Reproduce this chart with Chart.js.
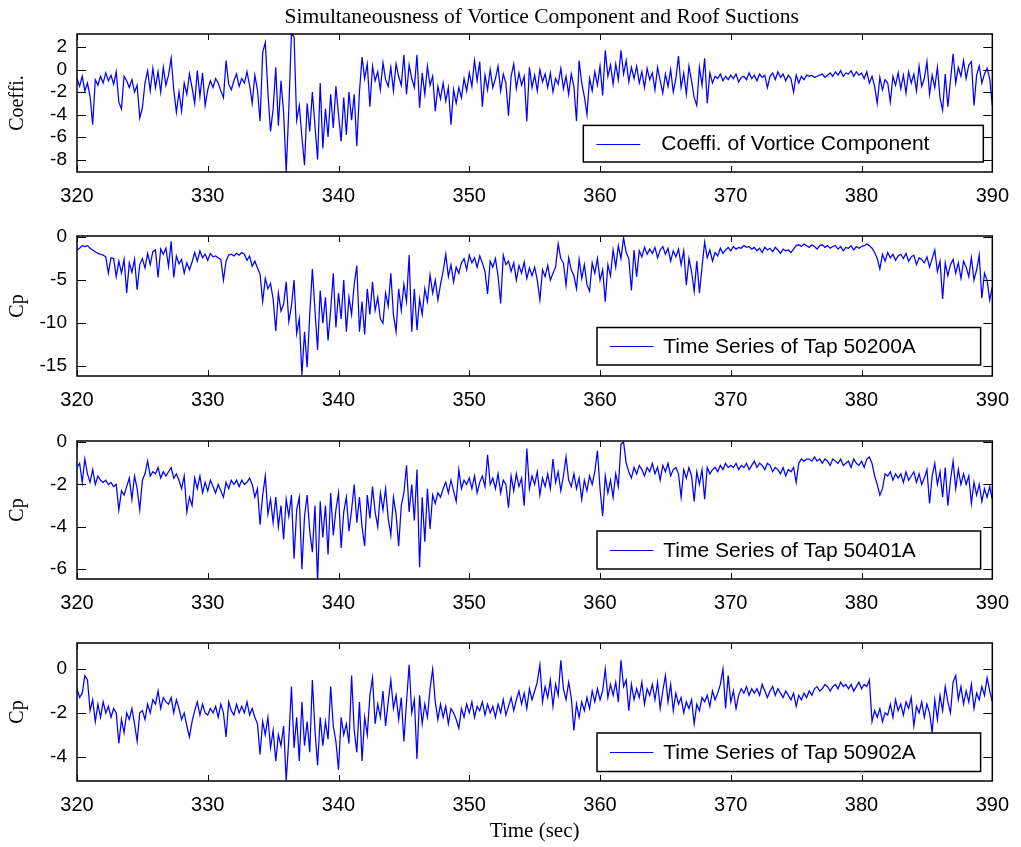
<!DOCTYPE html>
<html>
<head>
<meta charset="utf-8">
<title>Simultaneousness of Vortice Component and Roof Suctions</title>
<script src="https://cdn.jsdelivr.net/npm/chart.js@4.4.1/dist/chart.umd.min.js"></script>
<style>
  html, body { margin: 0; padding: 0; background: #fff; }
  #fig { position: relative; width: 1021px; height: 847px; overflow: hidden; }
  #fig canvas { position: absolute; left: 0; }
</style>
</head>
<body>
<div id="fig">
  <canvas id="c1" width="1021" height="212" style="top:0px"></canvas>
  <canvas id="c2" width="1021" height="204" style="top:212px"></canvas>
  <canvas id="c3" width="1021" height="203" style="top:416px"></canvas>
  <canvas id="c4" width="1021" height="228" style="top:619px"></canvas>
</div>
<script>
// sampling of the records (sec)
const t0 = 320;
const dt = 0.2;
const xTicks = [320, 330, 340, 350, 360, 370, 380, 390];

// one line = one second (5 samples)
const vortexCoef = [
  -0.8, -1.5, -0.6, -1.9, -1.2,
  -2.4, -4.9, -0.9, -1.4, -0.6,
  -1.2, -0.3, -1.0, -0.5, -1.3,
  -0.2, -2.9, -3.5, -0.6, -1.0,
  -1.6, -0.9, -2.0, -1.4, -4.3,
  -3.4, -1.2, -0.1, -1.9, 0.1,
  -1.6, -0.2, -2.0, 0.2, -1.4,
  -0.5, 1.0, -1.8, -3.8, -2.0,
  -3.7, -1.2, -2.2, -0.4, -1.6,
  -3.0, -0.1, -2.4, -0.3, -3.2,
  -1.8, -1.0, -1.6, -0.8, -1.2,
  -1.9, -2.5, 0.8, -1.3, -1.8,
  -1.0, -0.4, -1.5, -0.8, -1.2,
  -0.2, -1.4, -3.0, -0.5, -1.8,
  -4.6, 1.5, 2.4, -2.0, -5.5,
  -3.5, 0.2, -5.0, -1.0, -3.8,
  -9.1, -3.5, 3.2, 2.9, -4.5,
  -3.2, -6.0, -8.5, -3.0, -5.5,
  -2.0, -5.0, -8.0, -1.2, -7.0,
  -3.5, -6.0, -2.2, -5.2, -1.5,
  -4.0, -6.4, -2.5, -5.8, -2.0,
  -4.5, -2.2, -6.8, -2.0, 1.1,
  -0.8, 0.5, -3.3, 0.3, -1.0,
  -0.2, -1.8, 0.6, -0.9, -1.5,
  0.2, -1.9, 0.5, -0.6, -1.4,
  1.3, -2.2, 0.4, -0.8, -1.6,
  1.3, -3.4, -0.3, -2.2, 0.3,
  -1.4, -0.6, -3.7, -1.5, -2.6,
  -1.2, -2.8, -1.6, -4.9, -1.8,
  -3.0, -1.6, -2.5, -0.8, -1.9,
  -0.3, -1.5, 0.8, -1.0, 0.7,
  -3.3, -0.5, -1.8, 0.0, -1.6,
  -0.8, 0.3, -1.9, -0.4, -1.2,
  -4.1, -0.6, 0.5, -1.7, -0.3,
  -1.4, -0.6, -4.6, 0.2, -1.6,
  -0.5, -1.9, 0.0, -1.1, -0.4,
  -1.6, -0.3, -2.0, -0.8, -1.3,
  0.1, -1.7, -0.6, -2.2, -0.4,
  -1.5, -4.6, 0.8, -1.2, -2.4,
  -4.0, -0.8, -1.9, -0.2, -1.4,
  0.3, -2.3, 1.7, -0.6, 0.4,
  -1.3, 0.5, -0.9, 1.7, -0.4,
  0.8, -1.1, 0.2, -0.8, 0.3,
  -1.2, -0.2, -1.6, 0.1, -0.9,
  -0.3, -1.8, 0.2, -1.0, -2.1,
  -0.4, -1.5, 0.0, -2.0, -0.8,
  1.2, -1.6, -0.3, -2.2, 0.3,
  -1.0, -2.5, -3.2, 0.2, -1.4,
  1.0, -3.0, -0.3, -1.2, -0.6,
  -0.8, -0.4, -1.0, -0.6, -0.9,
  -0.5, -0.8, -0.4, -1.1, -0.7,
  -0.6, -0.9, -0.3, -0.8, -0.5,
  -1.0, -0.4, -0.7, -0.5, -1.6,
  -0.6, -0.3, -0.9, -0.2, -0.7,
  -0.4, -1.0, -0.5, -0.8, -2.0,
  -0.5, -1.2, -0.6, -0.9, -0.5,
  -0.6, -0.5, -0.7, -0.6, -0.5,
  -0.4, -0.7, -0.5, -0.3, -0.6,
  -0.2, -0.5, -0.1, -0.6, -0.3,
  -0.4, -0.1, -0.6, -0.2, -0.5,
  -0.3, -0.8, -0.2, -1.2, -0.6,
  -1.5, -3.0, -0.7, -1.8, -0.9,
  -1.2, -2.9, -0.6, -1.4, -0.3,
  -1.7, -0.5, -2.1, -0.2, -1.2,
  -0.4, -1.9, 0.3, -1.5, -0.8,
  0.7, -2.2, -0.5, -1.6, 0.2,
  -2.5, -3.6, -0.4, -3.3, -1.0,
  1.4, -1.2, 0.2, -0.6, 0.8,
  -0.8, 0.4, 0.7, -3.2, -0.5,
  0.3, -1.2, -0.4, 0.1, -0.8,
  -3.2
];

const tap50200A = [
  -1.5, -1.3, -1.0, -1.1, -1.0,
  -1.3, -1.5, -1.7, -1.9, -2.0,
  -2.1, -2.3, -4.2, -2.4, -2.5,
  -4.6, -2.8, -4.2, -2.6, -6.5,
  -3.0, -4.1, -2.6, -6.1, -3.2,
  -2.5, -3.6, -1.9, -3.2, -1.7,
  -1.5, -4.7, -1.4, -2.0, -1.3,
  -3.4, -0.5, -4.7, -2.2, -3.1,
  -2.6, -4.2, -3.0, -3.8, -2.9,
  -1.8, -2.8, -1.6, -2.4, -2.0,
  -2.7, -1.9, -2.3, -2.2, -2.4,
  -2.6, -5.0, -2.8, -2.1, -2.0,
  -2.2, -1.9, -2.1, -1.8, -2.0,
  -2.7, -2.2, -3.4, -2.8, -3.6,
  -4.3, -7.5, -4.8, -6.0, -5.4,
  -7.2, -10.9, -6.5, -8.6, -7.8,
  -5.2, -9.8, -8.0, -5.0, -11.2,
  -9.5, -16.0, -11.0, -15.1, -9.0,
  -3.7, -8.5, -13.1, -6.2, -10.0,
  -7.0, -12.0, -8.5, -4.2, -10.5,
  -6.5, -9.5, -5.0, -11.0, -7.0,
  -9.0, -5.5, -3.3, -11.0, -7.5,
  -11.3, -6.0, -9.0, -5.2, -8.5,
  -7.0, -9.5, -10.0, -6.5, -8.0,
  -4.2, -9.0, -11.0, -6.0, -8.5,
  -5.5, -7.5, -2.1, -11.0, -6.0,
  -10.8, -7.2, -9.0, -6.0, -7.5,
  -4.4, -6.5, -5.0, -7.3, -5.5,
  -4.0, -2.0, -4.6, -3.2, -5.2,
  -3.5, -4.2, -3.0, -2.5, -3.8,
  -2.1, -3.0, -2.4, -3.5, -2.2,
  -3.0, -4.0, -6.6, -2.8, -3.5,
  -2.5, -4.5, -7.7, -2.1, -3.2,
  -2.8, -4.0, -3.0, -5.0, -3.3,
  -4.2, -2.9, -4.8, -3.6, -4.5,
  -3.5, -5.0, -7.3, -3.8, -4.6,
  -3.3, -5.0, -4.2, -3.5, -0.8,
  -2.5, -3.0, -5.6, -2.4, -3.8,
  -4.5, -6.0, -2.6, -4.8, -3.2,
  -5.5, -6.3, -3.0, -4.2, -2.5,
  -5.0, -3.8, -7.5, -3.2, -4.5,
  -1.5, -3.5, -1.0, -2.5, -0.1,
  -1.8, -2.5, -6.2, -1.5, -4.6,
  -1.6, -2.3, -1.2, -2.0, -1.4,
  -1.9, -1.2, -2.4, -1.5, -1.1,
  -2.0, -1.3, -2.8, -1.6, -2.3,
  -1.4, -3.2, -1.6, -5.6, -2.5,
  -4.0, -6.3, -2.8, -6.5, -3.5,
  -0.6, -2.4, -1.5, -2.8, -1.8,
  -2.2, -1.3, -1.9, -1.5, -1.2,
  -1.6, -1.1, -1.4, -1.2, -1.3,
  -1.0, -1.2, -1.1, -1.4, -1.2,
  -1.6, -1.3, -1.8, -1.2, -1.5,
  -1.3, -1.7, -1.2, -1.5, -1.9,
  -1.4, -1.6, -1.5, -1.8, -1.4,
  -1.0, -0.9, -1.1, -0.8, -1.0,
  -1.2, -0.9, -1.1, -1.4, -1.0,
  -0.9, -1.2, -1.0, -1.3, -1.1,
  -1.0, -1.4, -1.1, -1.6, -1.2,
  -1.3, -1.0, -1.5, -1.1, -1.3,
  -1.1, -1.0, -0.8, -1.0, -1.3,
  -1.8, -2.5, -3.7, -2.0, -2.8,
  -1.8, -2.4, -2.0, -2.7, -2.2,
  -2.0, -2.5, -1.9, -2.8, -2.3,
  -2.1, -3.2, -2.4, -2.6, -3.0,
  -2.3, -3.5, -2.5, -1.5, -4.0,
  -2.8, -7.2, -3.0, -4.5, -3.2,
  -2.6, -4.2, -3.0, -4.8, -2.8,
  -3.5, -4.6, -2.4, -5.0, -3.8,
  -2.1, -7.1, -4.2, -5.0, -7.3,
  -5.8
];

const tap50401A = [
  -1.2, -1.0, -1.9, -0.8, -1.5,
  -1.9, -1.3, -2.0, -1.6, -1.8,
  -1.9, -1.8, -2.0, -1.9, -2.1,
  -2.0, -3.2, -2.3, -2.5, -2.1,
  -1.7, -2.7, -1.6, -2.2, -3.2,
  -1.8, -1.5, -0.9, -1.6, -1.4,
  -1.5, -1.2, -1.7, -1.4, -1.6,
  -1.4, -1.2, -1.7, -1.5, -1.8,
  -2.2, -1.6, -3.3, -2.6, -3.0,
  -1.7, -2.2, -1.6, -2.4, -1.9,
  -2.3, -1.8, -2.1, -2.4, -2.0,
  -2.3, -2.6, -1.9, -2.2, -1.8,
  -2.0, -1.8, -2.1, -1.8, -2.0,
  -1.9, -1.7, -2.0, -2.6, -2.2,
  -3.9, -2.5, -1.6, -3.4, -2.7,
  -3.8, -2.6, -4.0, -3.0, -4.6,
  -2.7, -3.5, -2.5, -5.5, -3.2,
  -2.6, -6.0, -3.5, -2.5, -4.2,
  -5.2, -3.0, -6.6, -2.8, -4.5,
  -3.0, -5.3, -2.4, -4.4, -3.2,
  -2.4, -5.0, -3.3, -2.6, -4.2,
  -3.2, -2.0, -3.8, -2.6, -4.0,
  -4.9, -2.5, -3.6, -2.1, -3.3,
  -4.0, -2.4, -3.2, -2.2, -3.6,
  -4.4, -2.6, -3.4, -4.9, -3.0,
  -2.4, -1.1, -3.3, -2.0, -3.7,
  -1.3, -5.9, -2.6, -4.7, -2.2,
  -4.1, -2.5, -2.9, -2.4, -2.6,
  -2.2, -1.9, -2.4, -1.8, -2.3,
  -2.8, -1.3, -2.2, -1.8, -2.0,
  -1.7, -2.2, -1.6, -2.4, -1.9,
  -1.6, -2.1, -0.6, -2.0, -1.7,
  -2.2, -1.5, -2.4, -1.8, -2.0,
  -3.1, -1.6, -2.3, -1.5, -2.1,
  -1.7, -3.0, -0.3, -2.2, -1.6,
  -2.0, -1.4, -2.5, -1.7, -2.1,
  -1.5, -2.2, -0.8, -1.9, -1.4,
  -2.3, -1.6, -0.7, -1.8, -2.1,
  -1.5, -2.2, -1.7, -2.7, -1.8,
  -2.3, -1.6, -2.0, -1.4, -0.4,
  -2.2, -3.5, -1.6, -2.4, -1.8,
  -2.6, -1.5, -2.1, -0.1, 0.0,
  -1.0, -1.4, -1.7, -1.2, -1.5,
  -1.1, -1.3, -1.6, -1.2, -1.4,
  -1.0, -1.5, -1.2, -1.8, -1.1,
  -1.4, -1.0, -1.6, -1.3, -1.2,
  -1.5, -2.6, -1.3, -1.7, -1.2,
  -1.6, -2.8, -1.4, -2.0, -1.3,
  -2.7, -1.2, -1.5, -1.3, -1.2,
  -1.4, -1.1, -1.3, -1.0, -1.2,
  -1.1, -1.2, -1.0, -1.3, -1.1,
  -1.2, -1.0, -1.3, -1.1, -0.9,
  -1.2, -1.0, -1.1, -1.3, -1.0,
  -1.1, -1.4, -1.2, -1.3, -1.5,
  -1.2, -1.6, -1.3, -1.4, -1.2,
  -1.9, -1.0, -0.8, -0.9, -0.8,
  -0.8, -0.9, -0.7, -0.9, -0.8,
  -1.0, -0.8, -0.9, -1.1, -0.8,
  -0.9, -1.0, -0.8, -1.1, -1.0,
  -0.9, -1.2, -0.8, -1.0, -1.1,
  -0.9, -1.2, -0.8, -0.7, -1.0,
  -1.6, -2.0, -2.5, -2.2, -1.5,
  -1.6, -1.4, -1.8, -1.5, -1.7,
  -1.5, -1.9, -1.4, -1.8, -1.6,
  -1.4, -1.9, -1.5, -2.0, -1.7,
  -1.3, -2.9, -1.6, -1.0, -2.0,
  -1.4, -2.6, -1.2, -3.0, -1.8,
  -0.9, -2.2, -1.3, -2.0, -1.5,
  -2.0, -1.6, -2.9, -1.9, -2.5,
  -2.0, -2.8, -2.2, -2.6, -2.1,
  -2.7
];

const tap50902A = [
  -0.9, -1.3, -1.1, -0.3, -0.5,
  -1.9, -1.4, -2.4, -1.6, -2.2,
  -1.5, -2.0, -1.7, -2.2, -1.8,
  -2.0, -3.4, -2.3, -2.9, -2.0,
  -2.3, -1.8, -2.5, -3.3, -2.0,
  -1.9, -2.3, -1.6, -2.0, -1.4,
  -1.6, -1.0, -1.8, -1.3, -1.5,
  -1.6, -1.3, -2.0, -1.4, -1.8,
  -2.3, -2.0, -2.6, -3.1, -2.4,
  -1.9, -1.5, -2.1, -1.6, -2.0,
  -2.1, -1.8, -2.0, -1.7, -2.2,
  -1.6, -2.0, -3.1, -1.5, -1.9,
  -2.1, -1.6, -2.0, -1.7, -2.0,
  -1.5, -2.1, -1.8, -2.2, -2.5,
  -3.9, -2.4, -3.0, -2.2, -3.6,
  -2.8, -4.2, -3.0, -3.5, -2.6,
  -5.1, -3.2, -0.8, -3.6, -2.2,
  -4.2, -1.5, -3.5, -2.4, -3.8,
  -0.5, -2.8, -4.4, -2.2, -3.5,
  -2.4, -3.2, -0.8, -2.6, -3.3,
  -4.6, -2.2, -3.0, -2.5, -3.4,
  -0.3, -2.8, -3.8, -1.5, -4.2,
  -2.2, -3.0, -1.2, -0.4, -2.5,
  -1.6, -2.2, -1.0, -2.6, -1.5,
  -0.5, -1.8, -1.2, -2.3, -1.3,
  -3.3, -1.5, 0.2, -2.0, -1.4,
  -4.1, -1.2, -2.5, -1.6, -2.2,
  -0.9, 0.0, -1.5, -2.3, -1.6,
  -2.2, -1.7, -2.5, -1.8, -2.0,
  -2.3, -2.7, -1.8, -2.2, -1.6,
  -2.0, -1.5, -2.2, -1.7, -1.9,
  -1.5, -2.1, -1.6, -2.0, -1.7,
  -2.2, -1.6, -2.0, -1.4, -2.1,
  -1.7, -1.3, -1.9, -1.4, -1.0,
  -1.6, -1.1, -1.8, -0.9, -1.4,
  -1.0, -0.6, 0.2, -1.5, -0.8,
  -1.3, -0.5, -1.7, -0.7, -1.2,
  0.4, -0.9, -1.4, -0.6, -1.3,
  -2.8, -1.6, -2.2, -1.5, -1.9,
  -1.3, -1.8, -1.0, -1.5, -0.9,
  -1.4, -1.0, 0.0, -1.3, -0.7,
  -1.2, -0.6, -1.5, 0.4, -0.8,
  -0.5, -1.9, -0.7, -1.4, -0.9,
  -1.3, -0.6, -1.6, -0.9, -1.2,
  -0.7, -1.4, -0.6, -1.8, -1.0,
  -0.3, -1.5, -0.7, -1.9, -1.1,
  -1.6, -1.3, -2.0, -1.5, -1.8,
  -1.4, -2.5, -1.6, -1.9, -1.3,
  -1.5, -1.2, -1.7, -1.0, -1.4,
  -1.1, -0.7, 0.0, -1.8, -0.3,
  -1.5, -1.0, -1.8, -1.2, -0.9,
  -1.1, -0.8, -1.2, -0.9, -1.1,
  -0.9, -1.2, -0.7, -1.0, -1.3,
  -1.0, -0.8, -1.2, -0.9, -1.1,
  -1.3, -1.0, -1.2, -1.4, -1.1,
  -1.7, -1.2, -1.4, -1.1, -1.3,
  -1.0, -1.2, -0.9, -0.8, -1.0,
  -0.9, -0.7, -0.8, -1.0, -0.8,
  -0.7, -0.9, -0.6, -0.8, -0.7,
  -0.9, -0.7, -1.0, -0.8, -0.6,
  -0.9, -0.7, -0.8, -0.5, -2.4,
  -1.9, -2.2, -1.8, -2.4, -2.0,
  -2.1, -1.6, -2.2, -1.4, -1.9,
  -1.6, -2.1, -1.5, -1.8, -1.3,
  -2.6, -1.7, -2.0, -1.5, -2.2,
  -1.6, -2.0, -2.9, -1.4, -2.3,
  -1.2, -1.9, -0.8, -1.5, -2.0,
  -0.6, -0.3, -1.4, -0.8, -1.6,
  -1.0, -1.5, -0.7, -1.8, -1.1,
  -1.4, -0.8, -1.2, -0.4, -1.0,
  -1.5
];

const yTicksVortex = [-8, -6, -4, -2, 0, 2];
const yTicks50200A = [-15, -10, -5, 0];
const yTicks50401A = [-6, -4, -2, 0];
const yTicks50902A = [-4, -2, 0];

const yLimVortex = [-9.11, 3.16];
const yLim50200A = [-16.13, 0.12];
const yLim50401A = [-6.46, 0.05];
const yLim50902A = [-5.11, 1.19];

const figTitle = "Simultaneousness of Vortice Component and Roof Suctions";

const SANS = "'Liberation Sans', Arial, Helvetica, sans-serif";
const SERIF = "'Liberation Serif', 'Times New Roman', serif";

// box, inward ticks on all sides, boxed legend, figure title
const framePlugin = {
  id: "frame",
  afterDatasetsDraw(chart, args, opts) {
    const ctx = chart.ctx;
    const a = chart.chartArea;
    const xs = chart.scales.x, ys = chart.scales.y;
    ctx.save();
    ctx.strokeStyle = "#000";
    ctx.lineWidth = 1;
    ctx.beginPath();
    xs.ticks.forEach(t => {
      const px = Math.round(xs.getPixelForValue(t.value)) + 0.5;
      ctx.moveTo(px, a.bottom); ctx.lineTo(px, a.bottom - 6);
      ctx.moveTo(px, a.top); ctx.lineTo(px, a.top + 6);
    });
    ys.ticks.forEach(t => {
      const py = Math.round(ys.getPixelForValue(t.value)) + 0.5;
      ctx.moveTo(a.left, py); ctx.lineTo(a.left + 9, py);
      ctx.moveTo(a.right, py); ctx.lineTo(a.right - 9, py);
    });
    ctx.stroke();

    // legend box
    const lg = opts.legend;
    const bx = a.right - lg.right - lg.w;
    const by = a.bottom - lg.bottom - lg.h;
    ctx.fillStyle = "#fff";
    ctx.fillRect(bx, by, lg.w, lg.h);
    ctx.lineWidth = 1.5;
    ctx.strokeRect(bx, by, lg.w, lg.h);
    const ds = chart.data.datasets[0];
    const cy = by + lg.h / 2;
    ctx.strokeStyle = ds.borderColor;
    ctx.lineWidth = 1.2;
    ctx.beginPath();
    ctx.moveTo(bx + lg.line[0], Math.round(cy) + 0.5);
    ctx.lineTo(bx + lg.line[1], Math.round(cy) + 0.5);
    ctx.stroke();
    ctx.fillStyle = "#000";
    ctx.font = "21px " + SANS;
    ctx.textBaseline = "middle";
    ctx.textAlign = "left";
    ctx.fillText(ds.label, bx + lg.textX, cy + 1);

    // axes box
    ctx.strokeStyle = "#000";
    ctx.lineWidth = 1.5;
    ctx.strokeRect(a.left, a.top, a.right - a.left, a.bottom - a.top);

    if (opts.title) {
      ctx.font = "21.5px " + SERIF;
      ctx.textAlign = "center";
      ctx.textBaseline = "middle";
      ctx.fillText(opts.title, (a.left + a.right) / 2 + opts.titleDx, opts.titleY);
    }
    ctx.restore();
  }
};

function makePanel(id, label, values, yLim, yTicks, yTitle, p) {
  const pts = values.map((v, i) => ({ x: t0 + i * dt, y: v }));
  return new Chart(document.getElementById(id), {
    type: "line",
    data: {
      datasets: [{
        label: label,
        data: pts,
        borderColor: "#0000ff",
        borderWidth: 1.25,
        pointRadius: 0,
        fill: false,
        tension: 0
      }]
    },
    options: {
      responsive: false,
      animation: false,
      events: [],
      layout: { padding: { top: p.padTop, right: 27, bottom: 0, left: 0 } },
      scales: {
        x: {
          type: "linear",
          min: xTicks[0],
          max: xTicks[xTicks.length - 1],
          afterBuildTicks: s => { s.ticks = xTicks.map(v => ({ value: v })); },
          afterFit: s => { s.height = p.axisH; },
          grid: { display: false, drawTicks: false },
          border: { display: false },
          ticks: {
            color: "#000", padding: 12, autoSkip: false, maxRotation: 0,
            font: { family: SANS, size: 20 }
          },
          title: {
            display: !!p.xTitle, text: p.xTitle || "", color: "#000",
            font: { family: SERIF, size: 21 }, padding: { top: 0, bottom: 3 }
          }
        },
        y: {
          type: "linear",
          min: yLim[0],
          max: yLim[1],
          afterBuildTicks: s => { s.ticks = yTicks.map(v => ({ value: v })); },
          afterFit: s => { s.width = 77; },
          grid: { display: false, drawTicks: false },
          border: { display: false },
          ticks: { color: "#000", padding: 10, font: { family: SANS, size: 19 } },
          title: {
            display: true, text: yTitle, color: "#000",
            font: { family: SERIF, size: 20 }, padding: { top: 6, bottom: 0 }
          }
        }
      },
      plugins: {
        legend: { display: false },
        tooltip: { enabled: false },
        frame: { legend: p.legend, title: p.title, titleY: p.titleY, titleDx: p.titleDx || 0 }
      }
    },
    plugins: [framePlugin]
  });
}

makePanel("c1", "Coeffi. of Vortice Component", vortexCoef, yLimVortex, yTicksVortex, "Coeffi.", {
  padTop: 34, axisH: 40, title: figTitle, titleY: 17, titleDx: 7,
  legend: { w: 400, h: 36.6, right: 9, bottom: 10, line: [13, 57], textX: 78 }
});
makePanel("c2", "Time Series of Tap 50200A", tap50200A, yLim50200A, yTicks50200A, "Cp", {
  padTop: 24, axisH: 40,
  legend: { w: 383.6, h: 37.5, right: 11.7, bottom: 11, line: [13, 56.3], textX: 66.3 }
});
makePanel("c3", "Time Series of Tap 50401A", tap50401A, yLim50401A, yTicks50401A, "Cp", {
  padTop: 25, axisH: 40,
  legend: { w: 383.6, h: 38, right: 11.7, bottom: 10, line: [13, 56.3], textX: 66.3 }
});
makePanel("c4", "Time Series of Tap 50902A", tap50902A, yLim50902A, yTicks50902A, "Cp", {
  padTop: 24, axisH: 66, xTitle: "Time (sec)",
  legend: { w: 383.6, h: 38.5, right: 11.7, bottom: 9.5, line: [13, 56.3], textX: 66.3 }
});
</script>
</body>
</html>
